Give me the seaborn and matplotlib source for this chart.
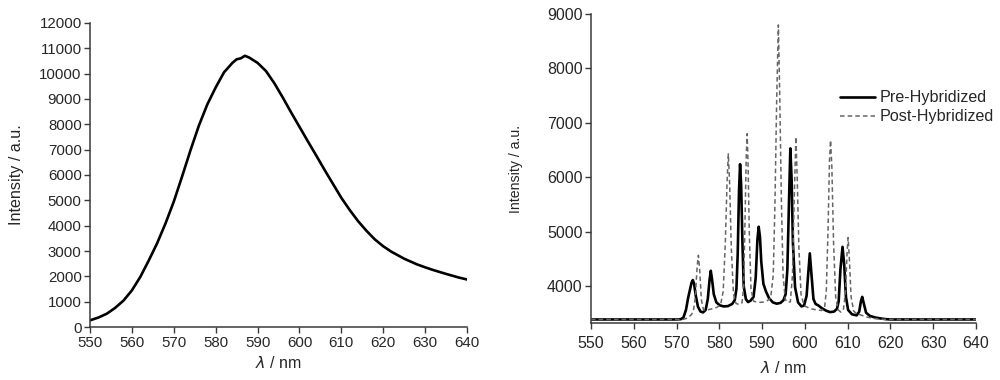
import numpy as np
import pandas as pd
import matplotlib
matplotlib.use("Agg")
import matplotlib.pyplot as plt
import seaborn as sns

# Left panel: single broad emission band
wl_left = [550, 552, 554, 556, 558, 560, 562, 564, 566, 568, 570, 572, 574, 576,
           578, 580, 582, 584, 585, 586, 587, 588, 590, 592, 594, 596, 598, 600,
           602, 604, 606, 608, 610, 612, 614, 616, 618, 620, 622, 625, 628, 630,
           632, 635, 638, 640]
int_left = [270, 380, 530, 760, 1050, 1450, 1980, 2620, 3300, 4080, 4950, 5950,
            6980, 7950, 8780, 9450, 10050, 10420, 10560, 10600, 10700, 10630,
            10420, 10100, 9620, 9060, 8470, 7900, 7330, 6770, 6200, 5650, 5100,
            4620, 4180, 3800, 3460, 3190, 2970, 2700, 2480, 2360, 2250, 2100,
            1960, 1880]

# Right panel: Pre-Hybridized (solid)
wl_pre = [550, 565, 570, 571.0, 571.6, 572.2, 572.7, 573.1, 573.5, 573.8, 574.1,
          574.5, 575.0, 575.6, 576.2, 576.8, 577.3, 577.7, 578.0, 578.3, 578.7,
          579.3, 580.1, 581.0, 582.0, 583.0, 583.6, 584.0, 584.3, 584.6, 584.85,
          585.1, 585.4, 585.7, 586.2, 586.7, 587.3, 588.0, 588.5, 588.9, 589.2,
          589.5, 589.8, 590.3, 590.9, 591.6, 592.5, 593.4, 594.3, 595.0, 595.5,
          595.9, 596.3, 596.6, 596.9, 597.2, 597.7, 598.4, 599.2, 599.8, 600.4,
          600.8, 601.15, 601.5, 602.0, 602.5, 603.1, 604.0, 605.0, 605.9, 606.8,
          607.5, 607.9, 608.3, 608.8, 609.2, 609.6, 610.1, 611.0, 612.1, 612.7,
          613.1, 613.4, 613.8, 614.3, 615.2, 616.5, 617.6, 619, 620, 640]
int_pre = [3385, 3385, 3385, 3390, 3420, 3560, 3780, 3920, 4060, 4110, 4040,
           3820, 3620, 3530, 3515, 3560, 3760, 4100, 4280, 4120, 3850,
           3700, 3645, 3625, 3630, 3670, 3740, 3950, 4600, 5750, 6240,
           5850, 4800, 4000, 3760, 3705, 3730, 3800, 4150, 4850, 5090,
           4900, 4450, 4040, 3900, 3780, 3700, 3675, 3690, 3740, 3850,
           4300, 5600, 6530, 5950, 4800, 3980, 3700, 3625, 3640, 3820,
           4250, 4600, 4250, 3760, 3670, 3645, 3590, 3545, 3520, 3530,
           3580, 3720, 4300, 4720, 4380, 3800, 3560, 3480, 3460, 3530,
           3720, 3800, 3670, 3510, 3450, 3420, 3405, 3390, 3385, 3385]

# Right panel: Post-Hybridized (dashed)
wl_post = [550, 571.5, 572.5, 573.3, 573.9, 574.4, 574.8, 575.1, 575.4, 575.8,
           576.3, 577.2, 578.5, 579.5, 580.3, 580.9, 581.4, 581.8, 582.1, 582.4,
           582.8, 583.3, 583.9, 584.6, 585.3, 585.7, 586.0, 586.3, 586.5, 586.7,
           587.0, 587.4, 588.0, 588.6, 589.5, 590.3, 591.2, 592.0, 592.6, 593.0,
           593.4, 593.8, 594.1, 594.5, 594.9, 595.4, 595.9, 596.6, 597.1, 597.5,
           597.9, 598.2, 598.6, 599.1, 599.8, 601.2, 602.5, 603.9, 604.6, 605.0,
           605.4, 605.75, 606.0, 606.3, 606.7, 607.2, 607.8, 608.4, 609.0, 609.5,
           609.85, 610.1, 610.4, 610.8, 611.4, 612.1, 613.0, 614.0, 615.0, 616.5,
           618, 620, 640]
int_post = [3385, 3385, 3410, 3460, 3520, 3800, 4350, 4565, 4300, 3750,
            3560, 3560, 3585, 3610, 3660, 3900, 4800, 5900, 6430, 5900,
            4700, 3850, 3680, 3660, 3690, 4000, 5200, 6400, 6800, 6300,
            5000, 3950, 3720, 3710, 3700, 3705, 3730, 3780, 4200, 5500,
            7400, 8800, 7600, 5600, 4200, 3760, 3700, 3710, 4200, 5600,
            6740, 6000, 4700, 3850, 3640, 3585, 3565, 3550, 3600, 3900,
            5000, 6300, 6680, 6200, 4800, 3800, 3560, 3520, 3560, 3900,
            4600, 4890, 4500, 3800, 3540, 3490, 3470, 3440, 3420, 3400,
            3390, 3385, 3385]

xticks = list(range(550, 641, 10))

sns.set_style("ticks")
plt.rcParams['font.family'] = ['Liberation Sans', 'DejaVu Sans']
plt.rcParams['mathtext.fontset'] = 'dejavusans'

fig = plt.figure(figsize=(10, 3.8), dpi=100)
ax1 = fig.add_axes([0.09, 0.139, 0.377, 0.801])
ax2 = fig.add_axes([0.591, 0.150, 0.385, 0.813])

spine_col = '#3a3a3a'

# Left panel
left_df = pd.DataFrame({'wl': wl_left, 'I': int_left})
sns.lineplot(data=left_df, x='wl', y='I', ax=ax1, color='black', linewidth=1.9)
ax1.set_xlim(550, 640)
ax1.set_ylim(0, 12000)
ax1.set_yticks(range(0, 12001, 1000))

# Right panel
pre_df = pd.DataFrame({'wl': wl_pre, 'I': int_pre})
post_df = pd.DataFrame({'wl': wl_post, 'I': int_post})
sns.lineplot(data=pre_df, x='wl', y='I', ax=ax2, color='black', linewidth=1.9,
             label='Pre-Hybridized')
sns.lineplot(data=post_df, x='wl', y='I', ax=ax2, color='#666666', linewidth=1.1,
             linestyle=(0, (3, 2)), label='Post-Hybridized')
ax2.set_xlim(550, 640)
ax2.set_ylim(3320, 9000)
ax2.set_yticks(range(4000, 9001, 1000))
ax2.legend(loc='upper right', bbox_to_anchor=(1.085, 0.80), frameon=False,
           fontsize=11.6, handlelength=2.2, handletextpad=0.3, labelspacing=0.25)

ax1.set_ylabel('Intensity / a.u.', fontsize=11.6)
ax2.set_ylabel('Intensity / a.u.', fontsize=10.2)
ax1.yaxis.set_label_coords(-0.176, 0.5)
ax2.yaxis.set_label_coords(-0.176, 0.5)
ax1.set_xlabel(r'$\lambda$ / nm', fontsize=11.5, labelpad=4)
ax2.set_xlabel(r'$\lambda$ / nm', fontsize=11.5, labelpad=7)
ax1.tick_params(labelsize=10.8, length=4, width=1.0, color=spine_col, pad=2)
ax2.tick_params(labelsize=11.5, length=4, width=1.0, color=spine_col, pad=2)
ax2.tick_params(axis='x', pad=5)

for ax in (ax1, ax2):
    ax.set_xticks(xticks)
    for s in ('left', 'bottom'):
        ax.spines[s].set_color(spine_col)
        ax.spines[s].set_linewidth(1.1)
    sns.despine(ax=ax)

fig.savefig('out.png', dpi=100)
